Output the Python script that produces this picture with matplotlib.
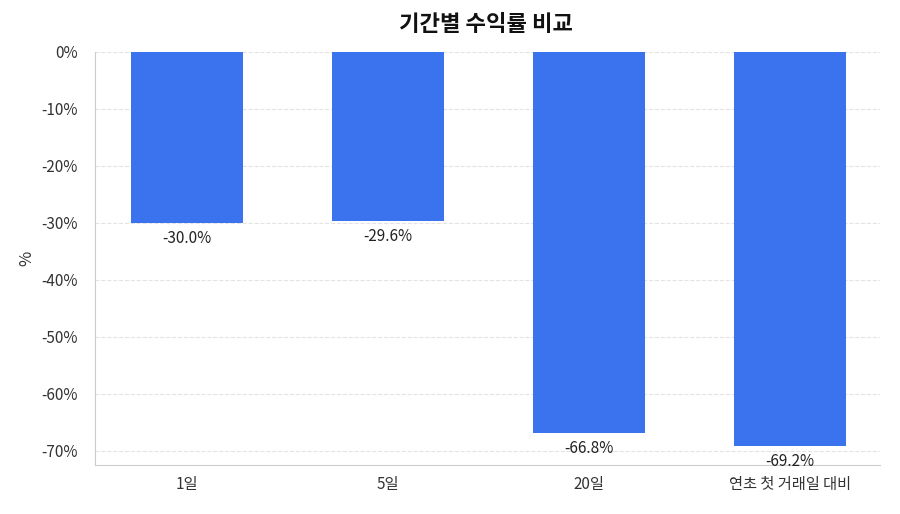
import matplotlib.pyplot as plt
from matplotlib.ticker import FuncFormatter

plt.rcParams['font.family'] = ['Noto Sans CJK KR', 'DejaVu Sans']

categories = ['1일', '5일', '20일', '연초 첫 거래일 대비']
returns = [-30.0, -29.6, -66.8, -69.2]

fig = plt.figure(figsize=(9, 5.14), dpi=100)
ax = fig.add_axes([0.105, 0.095, 0.873, 0.804])

x = range(len(categories))
ax.bar(x, returns, width=0.56, color='#3b73ee', zorder=2)
for xi, v in zip(x, returns):
    ax.annotate(f'{v:.1f}%', (xi, v), xytext=(0, -5), textcoords='offset points',
                ha='center', va='top', fontsize=11, color='#222222')

ax.set_xticks(list(x))
ax.set_xticklabels(categories, fontsize=11, color='#333333')
ax.set_xlim(-0.46, 3.45)
ax.set_ylim(-72.5, 0)
ax.set_yticks(range(-70, 1, 10))
ax.yaxis.set_major_formatter(FuncFormatter(lambda v, p: f'{v:.0f}%'))
ax.tick_params(axis='y', labelsize=11, colors='#333333', length=0, pad=12)
ax.tick_params(axis='x', length=0, pad=8)
ax.grid(axis='y', linestyle='--', color='#e3e3e3', zorder=0)
ax.set_ylabel('%', fontsize=12, color='#333333')
for s in ['top', 'right']:
    ax.spines[s].set_visible(False)
for s in ['left', 'bottom']:
    ax.spines[s].set_color('#cccccc')

fig.suptitle('기간별 수익률 비교', fontsize=16, fontweight='bold', y=0.975, x=0.54, color='#111111')
fig.savefig('out.png', dpi=100)
